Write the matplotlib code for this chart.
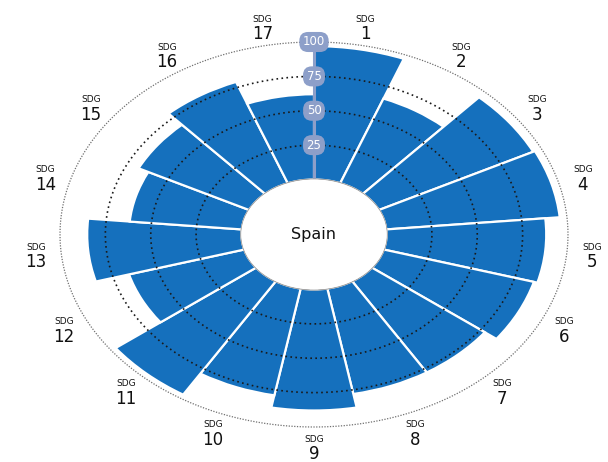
import numpy as np
import matplotlib
matplotlib.use("Agg")
import matplotlib.pyplot as plt
from matplotlib.patches import Ellipse

# ---- data ----
goals = [f"{i}" for i in range(1, 18)]
scores = [97, 66, 95, 96, 88, 86, 78, 78, 88, 79, 97, 66, 85, 62, 68, 79, 62]
ring_values = [25, 50, 75, 100]
ring_labels = ["25", "50", "75", "100"]
country = "Spain"

BLUE = "#1570BD"
BUBBLE = "#8D9FC9"
R_HOLE = 40
R_MAX = 100

fig = plt.figure(figsize=(6.08, 4.62), dpi=100)
ax = fig.add_axes([60 / 608, 35 / 462, 508 / 608, 385 / 462], projection="polar")
ax.set_aspect("auto")
ax.set_theta_zero_location("N")
ax.set_theta_direction(-1)

n = len(scores)
width = 2 * np.pi / n
theta = (np.arange(n) + 0.5) * width

ax.bar(theta, scores, width=width, bottom=0, color=BLUE, edgecolor="white",
       linewidth=1.6, zorder=2)

ax.set_rorigin(-R_HOLE)
ax.set_ylim(0, R_MAX)

# rings
tt = np.linspace(0, 2 * np.pi, 600)
for rv in ring_values:
    if rv == 100:
        ax.plot(tt, np.full_like(tt, rv), color="#707070", lw=0.9,
                linestyle=(0, (1, 1.2)), zorder=3, clip_on=False)
    else:
        ax.plot(tt, np.full_like(tt, rv), color="#1a1a1a", lw=1.2,
                linestyle=(0, (1, 2.0)), zorder=3)

# central hole
frac = R_HOLE / (R_HOLE + R_MAX)
hole = Ellipse((0.5, 0.5), frac * 1.01, frac * 1.01, transform=ax.transAxes,
               fc="white", ec="#a0a0a0", lw=0.6, zorder=6, clip_on=False)
ax.add_artist(hole)

# vertical axis line with value bubbles
ax.plot([0, 0], [0, 100], color=BUBBLE, lw=2.2, zorder=4, clip_on=False)
for rv, lab in zip(ring_values, ring_labels):
    ax.text(0, rv, lab, ha="center", va="center", color="white", fontsize=8.5,
            zorder=5, clip_on=False,
            bbox=dict(boxstyle="round,pad=0.3,rounding_size=0.75", fc=BUBBLE, ec="none"))

# category labels
for th, g in zip(theta, goals):
    ax.annotate("SDG", xy=(th, 114), xytext=(0, 7), textcoords="offset pixels",
                ha="center", va="center", fontsize=6.5, color="#111111",
                annotation_clip=False)
    ax.annotate(g, xy=(th, 114), xytext=(0, -8), textcoords="offset pixels",
                ha="center", va="center", fontsize=12, color="#111111",
                annotation_clip=False)

ax.text(0.5, 0.5, country, transform=ax.transAxes, ha="center", va="center",
        fontsize=11.5, color="#111111", zorder=7)

ax.set_xticks([])
ax.set_yticks([])
ax.grid(False)
for sp in ax.spines.values():
    sp.set_visible(False)
ax.patch.set_visible(False)

fig.savefig("out.png", dpi=100)
